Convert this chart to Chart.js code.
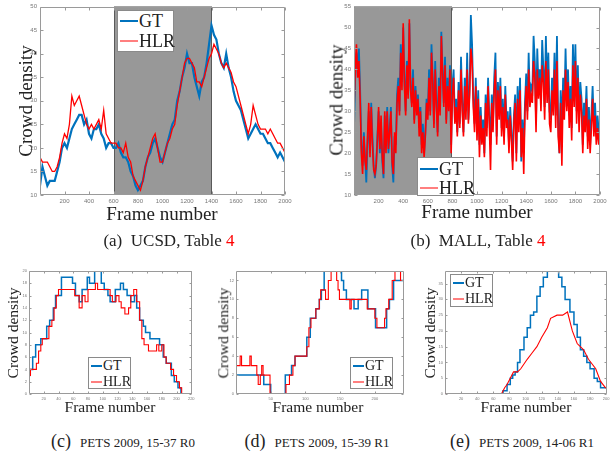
<!DOCTYPE html>
<html><head><meta charset="utf-8">
<script src="https://cdn.jsdelivr.net/npm/chart.js@4.4.0/dist/chart.umd.min.js"></script>
<style>
body{margin:0;width:613px;height:452px;background:#fff;position:relative;overflow:hidden;font-family:"Liberation Serif","DejaVu Serif",serif;color:#222}
canvas{position:absolute}
.lab{position:absolute;white-space:nowrap;transform:translate(-50%,-50%);line-height:1;font-family:"Liberation Serif","DejaVu Serif",serif}
.rot{transform:translate(-50%,-50%) rotate(-90deg)}
.leg{position:absolute;background:#fff;border:1px solid #8a8a8a;box-sizing:border-box;font-family:"Liberation Serif","DejaVu Serif",serif}
.leg .sw{position:absolute;height:0}
.leg .tx{position:absolute;transform:translateY(-50%)}
.sc{font-size:13px}
</style></head><body>
<canvas id="ca" width="300" height="225" style="left:0;top:0"></canvas>
<canvas id="cb" width="303" height="225" style="left:310px;top:0"></canvas>
<canvas id="cc" width="205" height="165" style="left:0;top:255px"></canvas>
<canvas id="cd" width="205" height="165" style="left:205px;top:255px"></canvas>
<canvas id="ce" width="203" height="165" style="left:410px;top:255px"></canvas>
<script>
// ---------------- DATA ----------------
const seriesNames = ['GT', 'HLR'];

// (a) UCSD, one value every 20 frames, frames 0..2000
const ucsdStep = 20;
const ucsdGT = [12,16,14,12,13,13,13,15,17,20, 21,20,22,24,25,26,27,27,25,26,
  23,22,24,24,25,23,22,20,21,21, 20,20,21,19,18,18,17,15,14,12,
  11,12,13,16,18,19,21,22,20,18, 17,19,21,23,25,26,30,32,35,37,
  40,38,38,35,33,31,34,35,38,42, 46,44,43,40,38,37,40,37,35,32,
  30,29,28,26,24,22,23,24,25,24, 23,23,22,21,21,20,19,18,19,18, 17];
const ucsdHLR = [18,17,17,17,16,15,15,16,18,21, 23,22,25,31,29,30,31,29,27,25,
  24,25,24,25,26,24,28,23,22,21, 21,21,20,20,19,21,18,17,14,13,
  12,11,13,16,18,20,22,23,20,17, 17,19,21,22,24,25,29,32,35,38,
  39,39,38,37,34,34,33,35,37,39, 40,42,41,40,38,37,38,37,36,34,
  33,31,29,27,25,23,25,29,27,25, 24,24,24,23,24,23,22,21,21,20, 19];
const ucsdShade = [600, 1400];
const ucsdXTicks = [200,400,600,800,1000,1200,1400,1600,1800,2000];
const ucsdYTicks = [10,15,20,25,30,35,40,45,50];

// (b) MALL, one value every 10 frames, frames 0..2000
const mallStep = 10;
const mallGT = [26,38,44,40,45,35,22,17,25,19, 13,22,30,20,32,24,17,14,17,24,
  30,20,27,18,14,29,22,31,20,26, 31,17,13,24,22,34,38,30,46,37,
  50,38,30,42,34,51,36,32,40,28, 36,30,34,26,31,22,27,20,25,33,
  29,40,30,46,38,27,42,33,25,38, 30,49,40,32,43,28,38,31,41,22,
  36,40,28,33,25,37,27,43,32,25, 38,30,44,28,36,53,46,33,27,38,
  25,35,22,31,24,28,20,34,26,38, 29,22,34,27,38,44,24,37,30,38,
  26,33,24,36,28,30,22,31,25,18, 29,34,20,36,27,38,18,28,20,32,
  39,30,44,33,36,35,48,42,28,45, 36,40,33,47,40,31,48,35,44,30,
  28,38,32,44,29,48,27,20,35,25, 38,31,45,33,40,29,36,26,46,34,
  46,30,41,28,37,33,22,32,28,36, 24,31,22,29,36,27,32,24,29,25, 26];
const mallHLR = [30,40,46,38,42,33,20,15,24,18, 16,24,32,19,31,22,16,15,17,23,
  31,21,29,19,15,30,20,30,21,25, 30,18,15,25,20,32,36,29,44,35,
  51,36,29,41,33,52,35,31,38,27, 35,29,33,24,30,20,25,19,24,32,
  28,38,29,44,37,26,40,31,24,36, 29,48,39,31,41,27,36,30,40,20,
  34,38,27,31,24,35,26,40,30,24, 36,28,40,27,34,45,42,31,25,36,
  23,33,19,29,22,26,19,32,24,36, 27,16,32,25,35,40,22,35,28,36,
  24,31,22,34,26,28,20,29,23,16, 27,32,18,33,25,35,19,26,15,30,
  36,28,40,31,34,32,42,38,25,40, 33,38,30,41,37,28,42,32,40,27,
  25,35,29,40,26,42,24,20,32,17, 35,28,40,30,37,26,33,23,41,31,
  42,27,38,25,34,30,20,29,25,33, 21,28,20,26,33,24,29,22,26,22, 25];
const mallShade = [0, 800];
const mallXTicks = [200,400,600,800,1000,1200,1400,1600,1800,2000];
const mallYTicks = [10,15,20,25,30,35,40,45,50,55];

// (c) PETS 2009 15-37 R0 : frame where the count changes, and the new count
const p1GTframes = [0,1,5,9,16,24,28,33,36,44,59,63,68,72,79,82,89,98,102,107,110,117,124,128,133,138,143,146,150,155,158,164,177,182,186,193,197,202,206,221];
const p1GTcounts = [3,4,6,8,9,11,12,14,16,19,18,16,15,17,19,18,20,18,17,16,15,17,18,17,16,15,16,14,12,11,10,9,8,6,5,3,2,1,0,0];
const p1HLRframes = [0,2,8,10,13,16,18,24,27,31,34,37,40,62,68,72,76,80,90,93,110,113,118,122,125,130,135,138,142,146,150,153,156,162,173,176,180,183,186,192,196,200,204,207,221];
const p1HLRcounts = [3,4,4,5,7,8,9,9,11,12,14,16,17,16,14,16,15,17,18,17,16,15,16,15,14,13,14,16,17,15,12,9,8,7,8,7,8,6,5,4,3,2,1,0,0];
const p1XTicks = [20,40,60,80,100,120,140,160,180,200,220];
const p1YTicks = [0,2,4,6,8,10,12,14,16,18,20];

// (d) PETS 2009 15-39 R1
const p2GTframes = [0,33,40,50,71,80,85,102,107,115,120,123,127,152,155,159,170,176,181,190,201,217,221,227,242];
const p2GTcounts = [2,2,1,0,2,3,4,6,8,9,10,11,13,12,11,10,9,10,11,9,7,9,10,12,12];
const p2HLRframes = [0,6,8,20,22,30,32,35,37,39,49,72,77,82,85,102,105,108,115,120,122,129,133,137,145,147,149,164,166,189,200,203,211,214,216,220,225,229,237,242];
const p2HLRcounts = [3,4,3,4,3,2,1,2,3,2,0,1,2,3,4,5,7,8,9,10,11,10,12,13,12,11,10,9,10,9,8,7,7,8,9,10,12,13,12,12];
const p2XTicks = [50,100,150,200];
const p2YTicks = [0,2,4,6,8,10,12];

// (e) PETS 2009 14-06 R1
const p3GTframes = [0,70,72,77,81,84,87,90,93,98,102,106,110,114,118,122,127,139,141,145,149,155,160,164,168,172,176,180,185,189,193,201];
const p3GTcounts = [0,0,1,3,5,6,7,10,14,18,21,25,26,31,34,37,39,39,37,34,30,26,22,18,14,12,10,8,5,4,2,2];
const p3HLRframes = [0,70,74,77,81,85,90,94,102,108,114,120,127,131,139,146,152,158,164,172,178,187,193,199,201];
const p3HLRcounts = [0,0,2,3,5,7,7,8,11,13,15,18,21,24,25,25,26,20,16,14,11,8,4,2,2];
const p3XTicks = [20,40,60,80,100,120,140,160,180,200];
const p3YTicks = [0,5,10,15,20,25,30,35];

// ---------------- STYLE ----------------
const BLUE = '#0072BD', RED = '#FF0000';

const shadePlugin = {
  id: 'shade',
  beforeDatasetsDraw(chart, args, o) {
    if (!o || !o.range) return;
    const {ctx, chartArea: a, scales: {x}} = chart;
    const x0 = Math.round(x.getPixelForValue(o.range[0])), x1 = Math.round(x.getPixelForValue(o.range[1]));
    ctx.save();
    ctx.fillStyle = '#989898';
    ctx.fillRect(x0, a.top, x1 - x0, a.bottom - a.top);
    ctx.strokeStyle = '#5a5a5a'; ctx.lineWidth = 1;
    ctx.strokeRect(x0 + 0.5, a.top + 0.5, x1 - x0 - 1, a.bottom - a.top - 1);
    ctx.restore();
  }
};
const framePlugin = {
  id: 'frame',
  afterDatasetsDraw(chart, args, o) {
    const {ctx, chartArea: a, scales: {x, y}} = chart;
    const L = o.len || 3;
    ctx.save();
    ctx.strokeStyle = '#9a9a9a'; ctx.lineWidth = 1;
    const l = Math.round(a.left) + 0.5, r = Math.round(a.right) - 0.5, t = Math.round(a.top) + 0.5, b = Math.round(a.bottom) - 0.5;
    ctx.beginPath();
    ctx.rect(l, t, r - l, b - t);
    x.ticks.forEach(tk => { const p = Math.round(x.getPixelForValue(tk.value)) + 0.5;
      ctx.moveTo(p, b); ctx.lineTo(p, b - L); ctx.moveTo(p, t); ctx.lineTo(p, t + L); });
    y.ticks.forEach(tk => { const p = Math.round(y.getPixelForValue(tk.value)) + 0.5;
      ctx.moveTo(l, p); ctx.lineTo(l + L, p); ctx.moveTo(r, p); ctx.lineTo(r - L, p); });
    ctx.stroke();
    ctx.restore();
  }
};

function regular(values, step) { return values.map((v, i) => ({x: i * step, y: v})); }
function pairs(frames, counts) { return frames.map((f, i) => ({x: f, y: counts[i]})); }

function makeChart(id, c) {
  return new Chart(document.getElementById(id), {
    type: 'line',
    data: { datasets: [
      { label: seriesNames[0], data: c.gt, borderColor: BLUE, borderWidth: c.gw, pointRadius: 0, stepped: c.gtStep, tension: 0, order: 1 },
      { label: seriesNames[1], data: c.hlr, borderColor: RED, borderWidth: c.hw, pointRadius: 0, stepped: c.hlrStep, tension: 0, order: 0 }
    ]},
    options: {
      responsive: false, animation: false, devicePixelRatio: 1,
      layout: { padding: { left: 0, right: c.pr, top: c.pt, bottom: 0 } },
      plugins: { legend: { display: false }, tooltip: { enabled: false },
        shade: { range: c.shade }, frame: { len: c.tl } },
      scales: {
        x: { type: 'linear', min: c.xmin, max: c.xmax,
          grid: { display: false, drawTicks: false }, border: { display: false },
          afterBuildTicks: s => { s.ticks = c.xt.map(v => ({value: v})); },
          afterFit: s => { s.height = c.xh; },
          ticks: { font: { size: c.fs, family: 'Liberation Sans' }, color: '#777', padding: c.tpx, maxRotation: 0, autoSkip: false,
            callback: v => String(v) } },
        y: { type: 'linear', min: c.ymin, max: c.ymax,
          grid: { display: false, drawTicks: false }, border: { display: false },
          afterBuildTicks: s => { s.ticks = c.yt.map(v => ({value: v})); },
          afterFit: s => { s.width = c.yw; },
          ticks: { font: { size: c.fs, family: 'Liberation Sans' }, color: '#777', padding: c.tpy, autoSkip: false,
            callback: v => String(v) } }
      }
    },
    plugins: [shadePlugin, framePlugin]
  });
}

makeChart('ca', { gt: regular(ucsdGT, ucsdStep), hlr: regular(ucsdHLR, ucsdStep), gw: 2.2, hw: 1.3, gtStep: false, hlrStep: false,
  pr: 15, pt: 5, xh: 30, yw: 40, xmin: 0, xmax: 2000, ymin: 10, ymax: 50, xt: ucsdXTicks, yt: ucsdYTicks, fs: 6, tpx: 3, tpy: 3, tl: 3, shade: ucsdShade });
makeChart('cb', { gt: regular(mallGT, mallStep), hlr: regular(mallHLR, mallStep), gw: 1.8, hw: 1.6, gtStep: false, hlrStep: false,
  pr: 13, pt: 5, xh: 30, yw: 44, xmin: 0, xmax: 2000, ymin: 10, ymax: 55, xt: mallXTicks, yt: mallYTicks, fs: 6, tpx: 3, tpy: 3, tl: 3, shade: mallShade });
makeChart('cc', { gt: pairs(p1GTframes, p1GTcounts), hlr: pairs(p1HLRframes, p1HLRcounts), gw: 1.5, hw: 1.1, gtStep: true, hlrStep: true,
  pr: 13, pt: 16, xh: 26, yw: 29, xmin: 0, xmax: 221, ymin: 0, ymax: 20, xt: p1XTicks, yt: p1YTicks, fs: 4, tpx: 2, tpy: 2, tl: 2, shade: null });
makeChart('cd', { gt: pairs(p2GTframes, p2GTcounts), hlr: pairs(p2HLRframes, p2HLRcounts), gw: 1.5, hw: 1.1, gtStep: true, hlrStep: true,
  pr: 6, pt: 16, xh: 26, yw: 31, xmin: 0, xmax: 242, ymin: 0, ymax: 13, xt: p2XTicks, yt: p2YTicks, fs: 4, tpx: 2, tpy: 2, tl: 2, shade: null });
makeChart('ce', { gt: pairs(p3GTframes, p3GTcounts), hlr: pairs(p3HLRframes, p3HLRcounts), gw: 1.5, hw: 1.1, gtStep: true, hlrStep: false,
  pr: 6, pt: 16, xh: 26, yw: 35, xmin: 0, xmax: 201, ymin: 0, ymax: 39, xt: p3XTicks, yt: p3YTicks, fs: 4, tpx: 2, tpy: 2, tl: 2, shade: null });

// ---------------- TEXT ----------------
function label(text, x, y, size, rot) {
  const d = document.createElement('div');
  d.className = 'lab' + (rot ? ' rot' : '');
  d.style.left = x + 'px'; d.style.top = y + 'px'; d.style.fontSize = size + 'px';
  d.textContent = text; document.body.appendChild(d); return d;
}
const xTitle = 'Frame number', yTitle = 'Crowd density';
label(xTitle, 162, 213, 19); label(yTitle, 25, 101, 19, true);
label(xTitle, 477, 211, 19); label(yTitle, 336, 100, 19, true);
label(xTitle, 110, 407, 15.5); label(yTitle, 13, 333, 15.5, true);
label(xTitle, 318, 407, 15.5); label(yTitle, 223, 333, 15.5, true);
label(xTitle, 526, 407, 15.5); label(yTitle, 430, 333, 15.5, true);

function legend(x, y, w, h, rows, lineX0, lineX1, textX, size) {
  const b = document.createElement('div'); b.className = 'leg';
  Object.assign(b.style, {left: x + 'px', top: y + 'px', width: w + 'px', height: h + 'px'});
  rows.forEach((ry, i) => {
    const sw = document.createElement('div'); sw.className = 'sw';
    Object.assign(sw.style, {left: lineX0 + 'px', width: (lineX1 - lineX0) + 'px', top: ry + 'px',
      borderTop: (i === 0 ? 2 : 1.5) + 'px solid ' + (i === 0 ? BLUE : RED), transform: 'translateY(-50%)'});
    const t = document.createElement('div'); t.className = 'tx';
    Object.assign(t.style, {left: textX + 'px', top: ry + 'px', fontSize: size + 'px', lineHeight: 1});
    t.textContent = seriesNames[i];
    b.appendChild(sw); b.appendChild(t);
  });
  document.body.appendChild(b);
}
legend(117, 10, 57, 42, [10, 30], 2, 20, 21, 18);
legend(417, 157, 57, 39, [11, 30], 2, 20, 21, 18);
legend(88, 357, 43, 32, [8, 24], 2, 13, 14, 14);
legend(350, 357, 43, 32, [8, 24], 2, 13, 14, 14);
legend(450, 274, 43, 33, [8, 24], 2, 13, 14, 14);

function caption(letter, main, tableRef, x, y) {
  const d = document.createElement('div'); d.className = 'lab';
  d.style.left = x + 'px'; d.style.top = y + 'px'; d.style.fontSize = '17px';
  const a = document.createElement('span'); a.textContent = '(' + letter + ')\u2002'; d.appendChild(a);
  const m = document.createElement('span'); m.textContent = main; d.appendChild(m);
  if (tableRef) { const r = document.createElement('span'); r.textContent = tableRef; r.style.color = RED; d.appendChild(r); }
  document.body.appendChild(d); return d;
}
function capSmall(letter, main, x, y) {
  const d = document.createElement('div'); d.className = 'lab';
  d.style.left = x + 'px'; d.style.top = y + 'px'; d.style.fontSize = '18px';
  const a = document.createElement('span'); a.textContent = '(' + letter + ')\u2002'; d.appendChild(a);
  const m = document.createElement('span'); m.className = 'sc'; m.textContent = main; d.appendChild(m);
  document.body.appendChild(d);
}
caption('a', 'UCSD, Table ', '4', 169, 240);
caption('b', 'MALL, Table ', '4', 478, 240);
capSmall('c', 'PETS 2009, 15-37 R0', 123, 441);
capSmall('d', 'PETS 2009, 15-39 R1', 317, 441);
capSmall('e', 'PETS 2009, 14-06 R1', 522, 441);
</script>
</body></html>
